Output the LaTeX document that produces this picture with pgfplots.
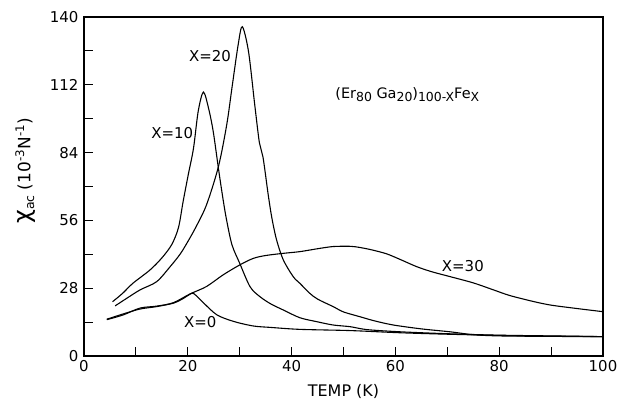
\documentclass[border=0pt]{standalone}
\usepackage{pgfplots}
\pgfplotsset{compat=1.18}
\usepackage{fontspec}
\setmainfont{DejaVu Sans}
\newcommand{\sub}[1]{\raisebox{-0.4ex}{\fontsize{12.5}{13}\selectfont #1}}
\begin{document}
\begin{tikzpicture}
\begin{axis}[
  width=519bp, height=339bp, scale only axis,
  xmin=0, xmax=100, ymin=0, ymax=140,
  xtick={0,20,...,100}, ytick={0,28,...,140},
  minor x tick num=1, minor y tick num=1,
  tick pos=left, tick align=inside,
  major tick length=9bp, minor tick length=9bp,
  every tick/.style={line width=1pt, black},
  axis line style={line width=1.3pt},
  /pgf/number format/assume math mode=true,
  ticklabel style={font=\fontsize{15}{17}\selectfont},
  xticklabel style={yshift=-1bp},
  yticklabel style={xshift=-2bp},
  xlabel={TEMP (K)},
  xlabel style={font=\fontsize{16}{18}\selectfont, at={(axis description cs:0.5,-0.106)}, anchor=center},
  ylabel={{\fontsize{24}{24}\selectfont χ}\sub{ac} (10\textsuperscript{-3}N\textsuperscript{-1})},
  ylabel style={font=\fontsize{17}{19}\selectfont, at={(axis description cs:-0.113,0.546)}, anchor=center},
  cycle list={{black, mark=none}},
  every axis plot/.append style={line width=1.1pt, smooth, tension=0.5},
  clip=false,
]
% X=0
\addplot coordinates {(4.4,15.2) (7.6,17.4) (10.8,19.4) (14,20.4) (17.2,21.8) (19,23.6) (20.5,25.6) (21.2,25.7) (23,22.0) (25.6,17.0) (28.8,14.3) (32.6,12.4) (36,11.8) (41.6,11.0) (51.3,10.5) (60.9,9.6) (70,9.0) (80,8.5) (90,8.2) (100,8.0)};
% X=30
\addplot coordinates {(4.4,15.0) (7.6,17.0) (10.8,19.8) (14,20.6) (17.2,22.0) (20.4,25.6) (23.6,28.7) (26.8,33.5) (30,37.6) (32.6,40.3) (35,41.5) (38.4,42.4) (41.6,43.1) (45,44.3) (48,45.2) (51.3,45.3) (53.2,44.8) (55.5,43.8) (58.3,42.2) (61,39.8) (64.1,36.9) (67,34.8) (70.5,32.8) (75,30.2) (78.9,27.3) (82,25.0) (86.6,22.5) (90,21.0) (95,19.6) (100,18.3)};
% X=10
\addplot coordinates {(5.5,22.4) (7.5,26) (9.4,30) (12.7,35.5) (15,40.5) (16.9,46) (18.2,53) (19.1,63.8) (20.1,75) (21.1,85.8) (22,101) (23,109) (24,102.3) (24.9,92.7) (25.9,77.5) (26.7,66) (27.4,57) (28.5,46) (30,38.3) (32,28.6) (33.9,24.5) (36,21.5) (38.4,19) (41.6,15.8) (44.8,14.2) (48,12.8) (51.3,12.1) (54.5,10.9) (60.9,10) (70,9.2) (80,8.6) (90,8.3) (100,8.0)};
% X=20
\addplot coordinates {(6,20.7) (8,23.5) (10.8,27.3) (14,30.7) (16.6,36.9) (18.5,42) (19.8,46.5) (21.5,53) (23.6,62.4) (25.9,78.2) (27.5,95.5) (28.5,110.6) (29.7,128.5) (30.5,136) (31.7,125.7) (32.9,103.7) (33.8,88) (34.5,82) (35.5,66.5) (36.2,57) (37.1,48) (38.4,39.7) (40.3,32.8) (41.6,30) (43.5,25.9) (45,23.5) (48,20.4) (50,18.2) (53.2,16.2) (56,14.5) (59.6,12.8) (65,11.2) (70.5,10) (75,8.8) (80,8.3) (90,8.1) (100,8.0)};
\node[font=\fontsize{15}{17}\selectfont] at (axis cs:24.3,124) {X=20};
\node[font=\fontsize{15}{17}\selectfont] at (axis cs:17,92) {X=10};
\node[font=\fontsize{15}{17}\selectfont] at (axis cs:73,37) {X=30};
\node[font=\fontsize{15}{17}\selectfont] at (axis cs:22.4,14) {X=0};
\node[anchor=west, inner sep=0pt, font=\fontsize{14.5}{16}\selectfont] at (axis cs:48.4,107.8) {(Er\sub{80} Ga\sub{20})\sub{100-X}Fe\sub{X}};
\end{axis}
\pgfresetboundingbox
\path ([shift={(-84bp,-44bp)}]current axis.south west) rectangle ([shift={(20bp,17bp)}]current axis.north east);
\end{tikzpicture}
\end{document}
